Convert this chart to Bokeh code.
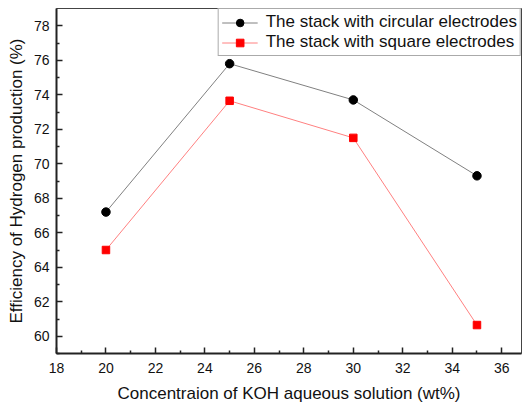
from bokeh.plotting import figure
from bokeh.models import Range1d, FixedTicker, Legend, LegendItem
from bokeh.embed import file_html
from bokeh.resources import INLINE

conc = [20, 25, 30, 35]
circular = [67.2, 75.8, 73.7, 69.3]
square = [65.0, 73.65, 71.5, 60.65]
x_ticks = [18, 20, 22, 24, 26, 28, 30, 32, 34, 36]
y_ticks = [60, 62, 64, 66, 68, 70, 72, 74, 76, 78]

FONT = "Liberation Sans"

p = figure(width=525, height=405, output_backend="svg", toolbar_location=None,
           x_range=Range1d(18, 36.8), y_range=Range1d(59, 79),
           min_border_left=56, min_border_right=4, min_border_top=8, min_border_bottom=52)
p.grid.visible = False
p.background_fill_color = "white"
p.border_fill_color = "white"
p.outline_line_color = "#444444"
p.outline_line_width = 1

l1 = p.line(conc, circular, line_color="#808080", line_width=1)
m1 = p.scatter(conc, circular, marker="circle", size=8.5, fill_color="black", line_color="black")
l2 = p.line(conc, square, line_color="#ff8080", line_width=1)
m2 = p.scatter(conc, square, marker="square", size=7.5, fill_color="red", line_color="red")

for ax in (p.xaxis[0], p.yaxis[0]):
    ax.axis_line_color = "#222222"
    ax.axis_line_width = 2
    ax.major_tick_in = 6
    ax.major_tick_out = 0
    ax.minor_tick_in = 3
    ax.minor_tick_out = 0
    ax.major_tick_line_color = "#222222"
    ax.minor_tick_line_color = "#222222"
    ax.major_tick_line_width = 1.5
    ax.minor_tick_line_width = 1.5
    ax.major_label_text_font = FONT
    ax.major_label_text_font_size = "14px"
    ax.major_label_text_color = "#111111"
    ax.axis_label_text_font = FONT
    ax.axis_label_text_font_size = "17px"
    ax.axis_label_text_font_style = "normal"
    ax.axis_label_text_color = "#111111"

p.xaxis[0].ticker = FixedTicker(ticks=x_ticks, minor_ticks=list(range(19, 37, 2)))
p.yaxis[0].ticker = FixedTicker(ticks=y_ticks, minor_ticks=list(range(59, 79, 2)))
p.xaxis[0].axis_label = "Concentraion of KOH aqueous solution (wt%)"
p.yaxis[0].axis_label = "Efficiency of Hydrogen production (%)"
p.xaxis[0].major_label_standoff = 9
p.xaxis[0].axis_label_standoff = 8
p.yaxis[0].major_label_standoff = 7
p.yaxis[0].axis_label_standoff = 5

legend = Legend(items=[
    LegendItem(label="The stack with circular electrodes", renderers=[l1, m1]),
    LegendItem(label="The stack with square electrodes", renderers=[l2, m2]),
], location="top_right")
legend.margin = 0
legend.padding = 3
legend.spacing = 0
legend.border_line_color = "#555555"
legend.border_line_width = 1
legend.label_text_font = FONT
legend.label_text_font_size = "17px"
legend.label_text_color = "#111111"
legend.glyph_width = 36
legend.glyph_height = 19
legend.label_height = 19
legend.label_standoff = 8
legend.background_fill_alpha = 1
p.add_layout(legend)

open("out.html", "w").write(file_html(p, INLINE))
